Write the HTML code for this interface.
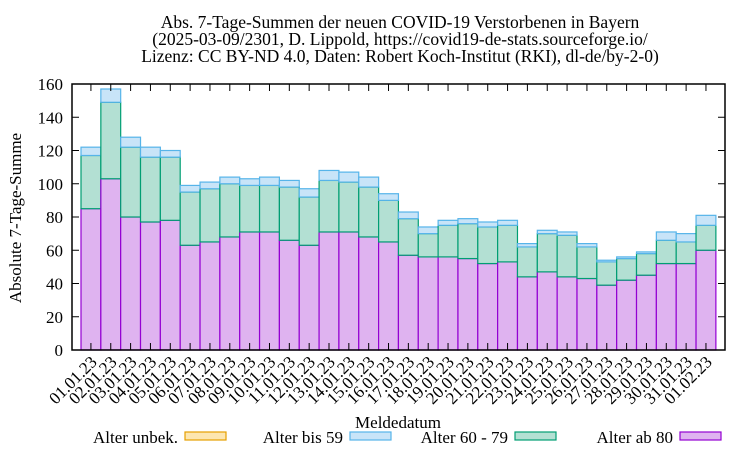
<!DOCTYPE html>
<html><head><meta charset="utf-8"><style>
body{margin:0;background:#fff}
svg text{font-family:"Liberation Serif",serif;fill:#000}
</style></head><body>
<svg id="chart" width="750" height="450" viewBox="0 0 750 450" xmlns="http://www.w3.org/2000/svg">
<rect width="750" height="450" fill="#fff"/>
<g font-size="17.5" text-anchor="middle">
<text x="400" y="28">Abs. 7-Tage-Summen der neuen COVID-19 Verstorbenen in Bayern</text>
<text x="400" y="45">(2025-03-09/2301, D. Lippold, https://covid19-de-stats.sourceforge.io/</text>
<text x="400" y="62">Lizenz: CC BY-ND 4.0, Daten: Robert Koch-Institut (RKI), dl-de/by-2-0)</text>
</g>
<text font-size="17" text-anchor="middle" transform="translate(21,218) rotate(-90)">Absolute 7-Tage-Summe</text>
<text font-size="17" text-anchor="middle" x="398" y="428">Meldedatum</text>
<g id="bars"></g>
<g id="axes"></g>
<g font-size="17" text-anchor="end">
<g><text x="178" y="443">Alter unbek.</text><rect x="185" y="432" width="41" height="8" fill="#fde6b0" stroke="#e69f00" stroke-width="1.2"/></g>
<g><text x="343" y="443">Alter bis 59</text><rect x="350" y="432" width="41" height="8" fill="#c8e4f8" stroke="#56b4e9" stroke-width="1.2"/></g>
<g><text x="508" y="443">Alter 60 - 79</text><rect x="515" y="432" width="41" height="8" fill="#b3e0d3" stroke="#009e73" stroke-width="1.2"/></g>
<g><text x="673" y="443">Alter ab 80</text><rect x="680" y="432" width="41" height="8" fill="#dfb3f0" stroke="#9400d3" stroke-width="1.2"/></g>
</g>
</svg>
<script>
const categories=["01.01.23","02.01.23","03.01.23","04.01.23","05.01.23","06.01.23","07.01.23","08.01.23","09.01.23","10.01.23","11.01.23","12.01.23","13.01.23","14.01.23","15.01.23","16.01.23","17.01.23","18.01.23","19.01.23","20.01.23","21.01.23","22.01.23","23.01.23","24.01.23","25.01.23","26.01.23","27.01.23","28.01.23","29.01.23","30.01.23","31.01.23","01.02.23"];
const ab80=[85,103,80,77,78,63,65,68,71,71,66,63,71,71,68,65,57,56,56,55,52,53,44,47,44,43,39,42,45,52,52,60];
const age60to79=[32,46,42,39,38,32,32,32,28,28,32,29,31,30,30,25,22,14,19,21,22,22,18,23,25,19,14,13,13,14,13,15];
const bis59=[5,8,6,6,4,4,4,4,4,5,4,5,6,6,6,4,4,4,3,3,3,3,2,2,2,2,1,1,1,5,5,6];
const unbek=[0,0,0,0,0,0,0,0,0,0,0,0,0,0,0,0,0,0,0,0,0,0,0,0,0,0,0,0,0,0,0,0];
const yTicks=[0,20,40,60,80,100,120,140,160];
const NS="http://www.w3.org/2000/svg";
const plotL=72,plotR=725,plotT=84,plotB=350,yMax=160,barX0=81,barW=19.84;
function yScale(v){return plotB-v/yMax*(plotB-plotT);}
function xScale(i){return barX0+barW*i;}
const bars=document.getElementById('bars'),axes=document.getElementById('axes');
function mk(tag,attrs,parent){const e=document.createElementNS(NS,tag);for(const k in attrs)e.setAttribute(k,attrs[k]);parent.appendChild(e);return e;}
const series=[[ab80,'#dfb3f0','#9400d3','bar-ab-80'],[age60to79,'#b3e0d3','#009e73','bar-60-79'],[bis59,'#c8e4f8','#56b4e9','bar-bis-59'],[unbek,'#fde6b0','#e69f00','bar-unbekannt']];
categories.forEach((c,i)=>{
  let base=0;
  series.forEach(s=>{
    const v=s[0][i];
    const y0=yScale(base),y1=yScale(base+v);
    if(v>0){
      const r=mk('rect',{x:xScale(i),y:y1,width:barW,height:y0-y1,fill:s[1],stroke:s[2],'stroke-width':1.2},bars);
      
      
    }
    base+=v;
  });
});
mk('rect',{x:plotL,y:plotT,width:plotR-plotL,height:plotB-plotT,fill:'none',stroke:'#000','stroke-width':1.5},axes);
yTicks.forEach(t=>{
  const y=yScale(t);
  mk('line',{x1:plotL,x2:plotL+7,y1:y,y2:y,stroke:'#000'},axes);
  mk('line',{x1:plotR,x2:plotR-7,y1:y,y2:y,stroke:'#000'},axes);
  const tx=mk('text',{x:plotL-9,y:y+6,'font-size':17,'text-anchor':'end'},axes);
  tx.textContent=t;
  
  
});
categories.forEach((c,i)=>{
  const x=xScale(i)+barW/2;
  mk('line',{x1:x,x2:x,y1:plotB,y2:plotB-7,stroke:'#000'},axes);
  mk('line',{x1:x,x2:x,y1:plotT,y2:plotT+7,stroke:'#000'},axes);
  const tx=mk('text',{'font-size':17,'text-anchor':'end',transform:'translate('+(x+7)+','+(plotB+13)+') rotate(-45)'},axes);
  tx.textContent=c;
  
  
});
</script>
</body></html>
